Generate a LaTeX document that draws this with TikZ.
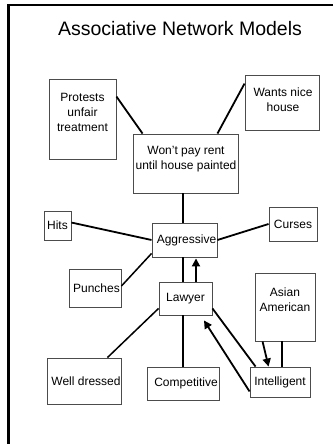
\documentclass[tikz,border=0pt]{standalone}
\usepackage{fontspec}
\setmainfont{Liberation Sans}
\usetikzlibrary{arrows.meta}
\begin{document}
\begin{tikzpicture}[x=1pt,y=-1pt,
  box/.style={draw=black!70,line width=0.9pt,inner sep=0pt,align=center,
    font=\fontsize{12}{15}\selectfont},
  txt/.style={inner sep=0pt,align=center,font=\fontsize{12}{15}\selectfont},
  link/.style={line width=1.8pt,black},
  arr/.style={line width=1.8pt,black,-{Triangle[length=8pt,width=8pt]}},
  frame/.style={line width=2.2pt,black}]
\useasboundingbox (0,0) rectangle (333,444);
\fill[white] (0,0) rectangle (333,444);
\draw[frame] (333,5) -- (8.5,5) -- (8.5,444);
\node[txt,font=\fontsize{19.5}{22}\selectfont] (title) at (180,29) {Associative Network Models};
% boxes
\node[box,minimum width=67pt,minimum height=80pt] (protests) at (82.5,119) {};
\node[txt] (protestsT) at (82.5,112) {Protests\\unfair\\treatment};
\node[box,minimum width=74pt,minimum height=55pt] (wants) at (282,102.5) {};
\node[txt] (wantsT) at (283,99.5) {Wants nice\\house};
\node[box,minimum width=105pt,minimum height=59pt] (wont) at (185.5,163.5) {};
\node[txt] (wontT) at (186,159.5) {Won't pay rent\\until house painted};
\node[box,minimum width=65pt,minimum height=34pt] (aggr) at (184.5,240) {\hspace*{4pt}Aggressive};
\node[box,minimum width=27pt,minimum height=29pt] (hits) at (57.5,225.5) {Hits};
\node[box,minimum width=48pt,minimum height=34pt] (curses) at (293,224) {Curses};
\node[box,minimum width=52pt,minimum height=38pt] (punches) at (95,288) {\hspace*{3pt}Punches};
\node[box,minimum width=53pt,minimum height=33pt] (lawyer) at (185.5,298.5) {Lawyer};
\node[box,minimum width=60pt,minimum height=68pt] (asian) at (285,307) {};
\node[txt] (asianT) at (285,300) {Asian\\American};
\node[box,minimum width=74pt,minimum height=46pt] (well) at (84,381) {\hspace*{4pt}Well dressed};
\node[box,minimum width=72pt,minimum height=33pt] (comp) at (183,383.5) {\hspace*{6pt}Competitive};
\node[box,minimum width=60pt,minimum height=30pt] (intel) at (280,382) {Intelligent};
% connectors
\draw[link] ([yshift=-18pt]protests.north east) -- ([xshift=10pt]wont.north west);
\draw[link] ([yshift=-9pt]wants.north west) -- ([xshift=-21pt]wont.north east);
\draw[link] ([xshift=-2.5pt]wont.south) -- ([xshift=-1.5pt]aggr.north);
\draw[link] ([yshift=-12pt]hits.north east) -- (aggr.west);
\draw[link] (aggr.east) -- (curses.west);
\draw[link,line width=1.5pt] ([yshift=2pt]punches.east) -- ([yshift=4pt]aggr.south west);
\draw[link] ([xshift=-2.5pt]lawyer.north) -- ([xshift=-1.5pt]aggr.south);
\draw[arr] ([xshift=10.5pt]lawyer.north) -- ([xshift=11.5pt,yshift=-1pt]aggr.south);
\draw[link,line width=1.5pt] ([yshift=7pt]lawyer.south west) -- ([xshift=-14pt]well.north east);
\draw[link] ([xshift=-2.5pt]lawyer.south) -- (comp.north);
\draw[link] ([yshift=7pt]lawyer.south east) -- ([xshift=6pt]intel.north west);
\draw[arr] ([yshift=6pt]intel.south west) -- ([shift={(18.5pt,-5pt)}]lawyer.south);
\draw[arr] ([xshift=8pt]asian.south west) -- ([xshift=19pt]intel.north west);
\draw[link] ([xshift=-3pt]asian.south) -- ([xshift=2pt]intel.north);
\end{tikzpicture}
\end{document}
